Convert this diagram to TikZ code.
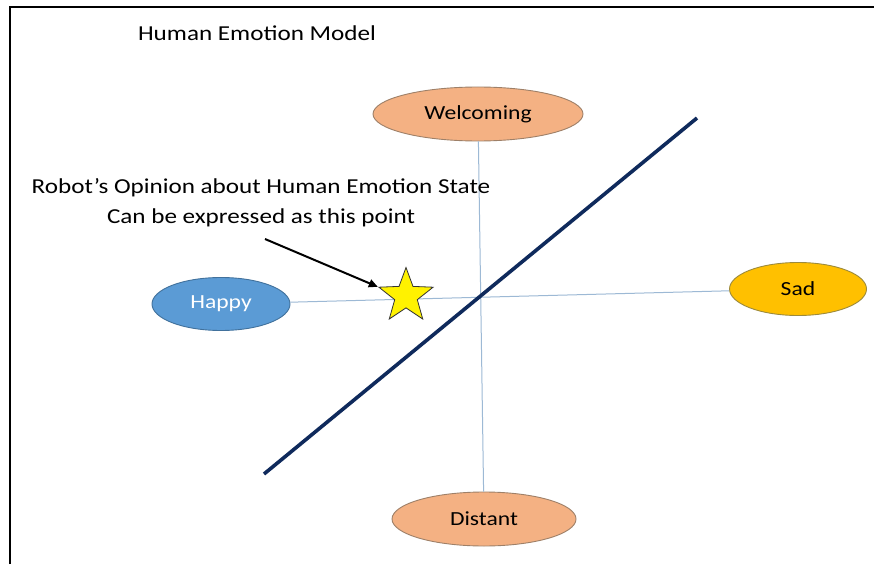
\documentclass[tikz,border=0pt]{standalone}
\usepackage{fontspec}
\setmainfont{Carlito}
\usepackage{graphicx}
\usetikzlibrary{shapes.geometric,arrows.meta}
\definecolor{peach}{HTML}{F4B183}
\definecolor{peachline}{HTML}{9E8068}
\definecolor{skyblue}{HTML}{5B9BD5}
\definecolor{skyline}{HTML}{41719C}
\definecolor{gold}{HTML}{FFC000}
\definecolor{goldline}{HTML}{9C8A3C}
\definecolor{axisblue}{HTML}{9DB9D5}
\definecolor{navy}{HTML}{0F2A5C}
\newcommand\wtxt[1]{\scalebox{1.18}[1]{#1}}
\begin{document}
\begin{tikzpicture}[x=1pt,y=-1pt,
  emo/.style={ellipse,draw,line width=0.9pt,inner sep=0pt,font=\fontsize{20}{24}\selectfont},
  axis/.style={draw=axisblue,line width=1pt},
  lbl/.style={font=\fontsize{21.3}{30}\selectfont,align=center,inner sep=0pt}]
\useasboundingbox (0,0) rectangle (874,564);
\fill[white] (0,0) rectangle (874,564);
% frame
\coordinate (fr1) at (10,564);
\coordinate (fr2) at (10,7);
\coordinate (fr3) at (874,7);
\draw[line width=2.3pt,black] (fr1) -- (fr2) -- (fr3);
% title
\node[lbl] (title) at (257,33) {\wtxt{Human Emotion Model}};
% ellipses
\node[emo,fill=peach,draw=peachline,minimum width=210,minimum height=54] (wel) at (478,114) {\wtxt{Welcoming}};
\node[emo,fill=peach,draw=peachline,minimum width=184,minimum height=54] (dis) at (484,519) {\wtxt{Distant}};
\node[emo,fill=skyblue,draw=skyline,text=white,minimum width=138,minimum height=53] (hap) at (221,304) {\wtxt{Happy}};
\node[emo,fill=gold,draw=goldline,minimum width=137,minimum height=53] (sad) at (798,289) {\wtxt{Sad}};
% axes
\draw[axis] (wel) -- (dis);
\draw[axis] (hap) -- (sad);
% diagonal
\coordinate (d1) at (264,474);
\coordinate (d2) at (697,118);
\draw[navy,line width=3.6pt] (d1) -- (d2);
% star
\node[star,star points=5,star point ratio=2.4,minimum size=57,inner sep=0pt,fill=yellow,draw=black!80,line width=0.8pt] (st) at (406,296) {};
% annotation
\node[lbl] (note) at (261,203) {\wtxt{Robot’s Opinion about Human Emotion State}\\\wtxt{Can be expressed as this point}};
\coordinate (a1) at (265,239);
\draw[-{Triangle[length=9pt,width=8pt]},line width=2pt,black] (a1) -- (st.outer point 2);
\end{tikzpicture}
\end{document}
